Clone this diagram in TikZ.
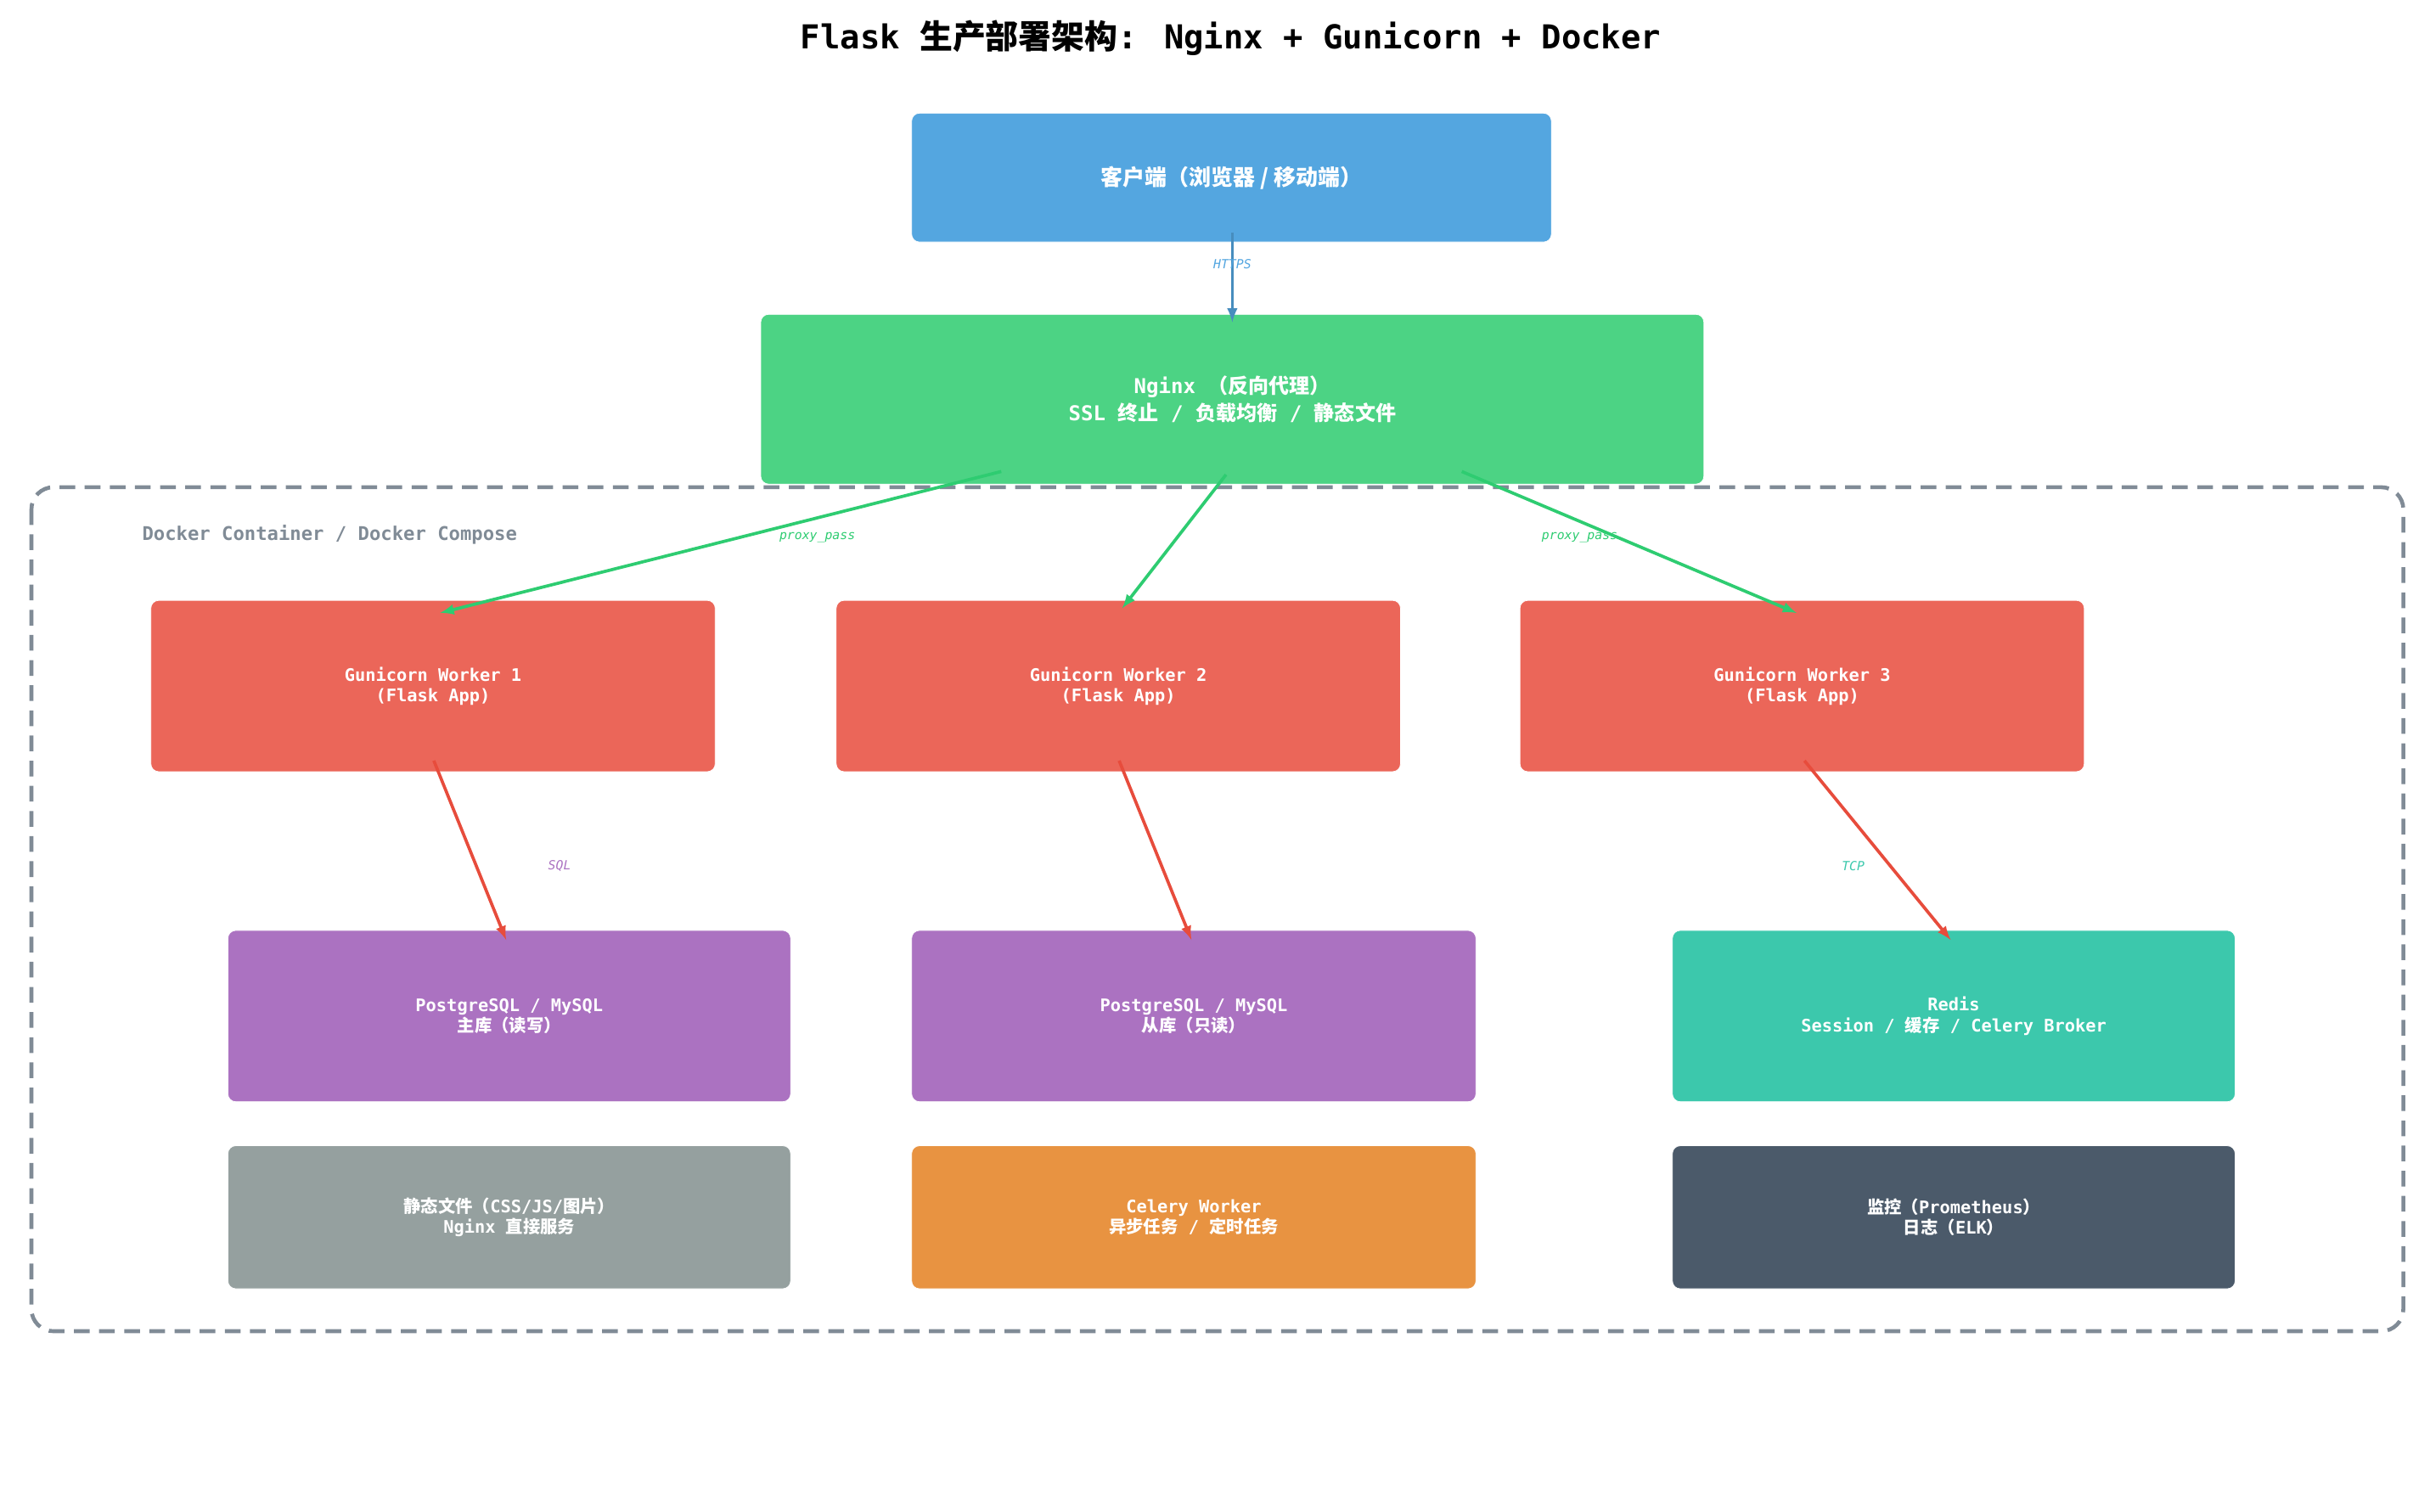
\documentclass[tikz,border=0pt]{standalone}
\usepackage{fontspec}
\setmainfont{DejaVu Sans Mono}
\newfontfamily\cjk{Noto Sans CJK SC}
\usetikzlibrary{calc}
\definecolor{cblue}{HTML}{54A6E0}
\definecolor{cgreen}{HTML}{4CD384}
\definecolor{cred}{HTML}{EB6659}
\definecolor{cpurple}{HTML}{AB72C1}
\definecolor{cteal}{HTML}{3CC8AC}
\definecolor{cgray}{HTML}{95A09F}
\definecolor{corange}{HTML}{E89341}
\definecolor{cdark}{HTML}{4B5A6A}
\definecolor{cframe}{HTML}{808B96}
\definecolor{garrow}{HTML}{2ECC71}
\definecolor{rarrow}{HTML}{E74C3C}
\begin{document}
\begin{tikzpicture}[x=1pt,y=-1pt,
    box/.style={draw=white, rounded corners=5pt, text=white, font=\bfseries\fontsize{11}{13}\selectfont, align=center},
    lbl/.style={font=\itshape\fontsize{8}{9}\selectfont},
    conn/.style={-latex, line width=2pt}]
  \useasboundingbox (0,0) rectangle (1546,962);
  % title
  \node[font=\bfseries\fontsize{21}{24}\selectfont] (title) at (783,24) {Flask {\cjk 生产部署架构}: Nginx + Gunicorn + Docker};
  % container
  \draw[cframe, line width=2.5pt, dash pattern=on 10pt off 6pt, rounded corners=14pt] (20,310) rectangle (1529,847);
  \node[cframe, anchor=west, font=\bfseries\fontsize{12}{14}\selectfont] (dock) at (87,340) {Docker Container / Docker Compose};
  % boxes
  \path[box, fill=cblue] (580,72) rectangle (987,154) node[midway, font=\bfseries\fontsize{14}{16}\selectfont] (client) {{\cjk 客户端（浏览器 / 移动端）}};
  \path[box, fill=cgreen] (484,200) rectangle (1084,308) node[midway, font=\bfseries\fontsize{13}{17}\selectfont, align=center] (nginx) {Nginx {\cjk（反向代理）}\\SSL {\cjk 终止} / {\cjk 负载均衡} / {\cjk 静态文件}};
  \foreach \x/\n in {96/1,532/2,967/3}
    \path[box, fill=cred] (\x,382) rectangle (\x+359,491) node[midway, align=center] (w\n) {Gunicorn Worker \n\\(Flask App)};
  \path[box, fill=cpurple] (145,592) rectangle (503,701) node[midway, align=center] (db1) {PostgreSQL / MySQL\\{\cjk 主库（读写）}};
  \path[box, fill=cpurple] (580,592) rectangle (939,701) node[midway, align=center] (db2) {PostgreSQL / MySQL\\{\cjk 从库（只读）}};
  \path[box, fill=cteal] (1064,592) rectangle (1422,701) node[midway, align=center] (redis) {Redis\\Session / {\cjk 缓存} / Celery Broker};
  \path[box, fill=cgray] (145,729) rectangle (503,820) node[midway, align=center] (static) {{\cjk 静态文件（}CSS/JS/{\cjk 图片）}\\Nginx {\cjk 直接服务}};
  \path[box, fill=corange] (580,729) rectangle (939,820) node[midway, align=center] (celery) {Celery Worker\\{\cjk 异步任务} / {\cjk 定时任务}};
  \path[box, fill=cdark] (1064,729) rectangle (1422,820) node[midway, align=center] (mon) {{\cjk 监控（}Prometheus{\cjk ）}\\{\cjk 日志（}ELK{\cjk ）}};
  % connectors
  \coordinate (c1) at (784,148); \coordinate (n0) at (784,205);
  \draw[conn, cblue!85!black] (c1) -- (n0) node[pos=0.35, lbl, cblue] {HTTPS};
  \coordinate (n1) at (637,300); \coordinate (n2) at (780,302); \coordinate (n3) at (930,300);
  \coordinate (t1) at (280,390); \coordinate (t2) at (714,387); \coordinate (t3) at (1143,390);
  \draw[conn, garrow] (n1) -- (t1);
  \draw[conn, garrow] (n2) -- (t2);
  \draw[conn, garrow] (n3) -- (t3);
  \node[lbl, garrow] (pp1) at (520,342) {proxy\_pass};
  \node[lbl, garrow] (pp2) at (1005,342) {proxy\_pass};
  \coordinate (s1) at (276,484); \coordinate (e1) at (322,598);
  \coordinate (s2) at (712,484); \coordinate (e2) at (758,598);
  \coordinate (s3) at (1148,484); \coordinate (e3) at (1241,598);
  \draw[conn, rarrow] (s1) -- (e1);
  \draw[conn, rarrow] (s2) -- (e2);
  \draw[conn, rarrow] (s3) -- (e3);
  \node[lbl, cpurple] (sql) at (356,551) {SQL};
  \node[lbl, cteal] (tcp) at (1179,551) {TCP};
\end{tikzpicture}
\end{document}
